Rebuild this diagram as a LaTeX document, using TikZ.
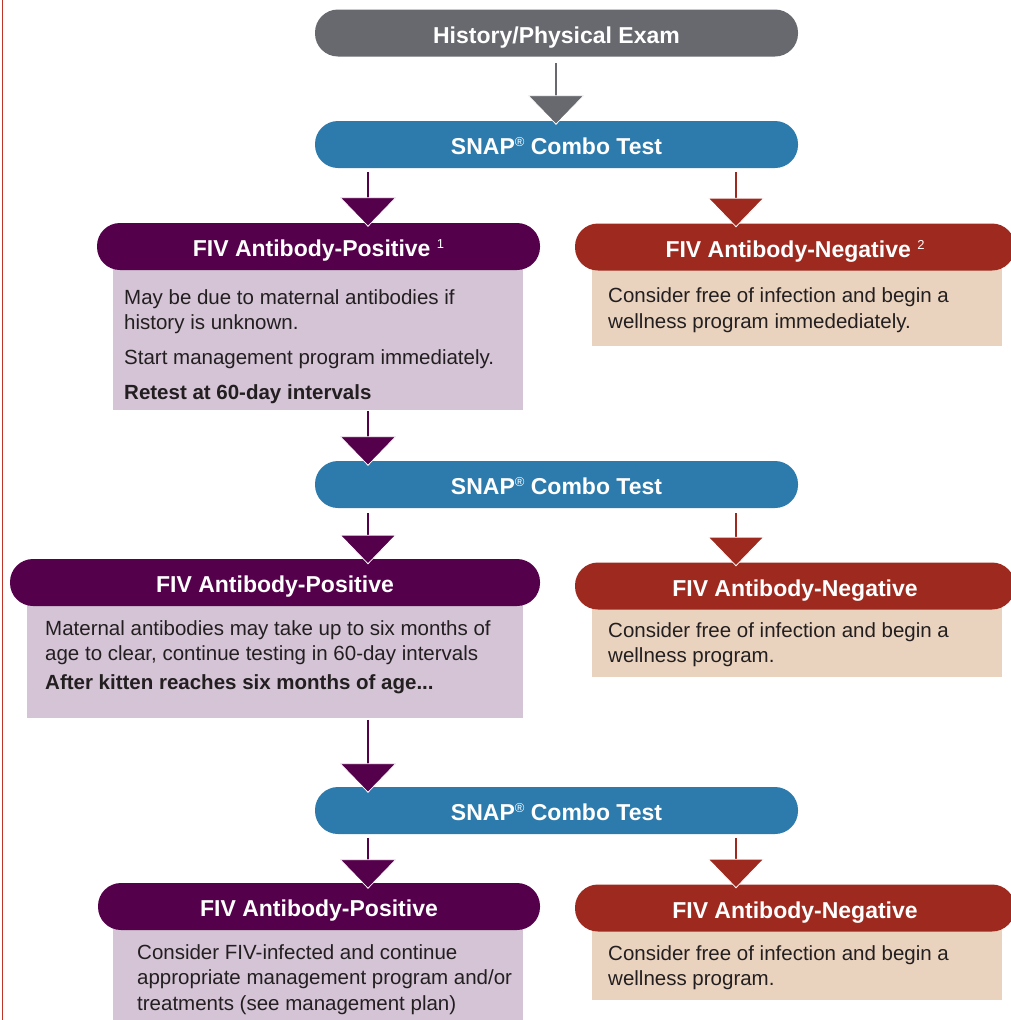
\documentclass[tikz,border=0pt]{standalone}
\usepackage{fontspec}
\setmainfont{Liberation Sans}
\usetikzlibrary{arrows.meta,calc}
\definecolor{cgrey}{RGB}{103,105,110}
\definecolor{cblue}{RGB}{44,123,172}
\definecolor{cpurple}{RGB}{85,0,75}
\definecolor{cred}{RGB}{158,42,31}
\definecolor{clilac}{RGB}{212,196,214}
\definecolor{ctan}{RGB}{234,211,190}
\definecolor{cink}{RGB}{35,31,32}
\definecolor{cborder}{RGB}{192,52,40}
\newcommand{\supmark}[1]{\raisebox{8pt}{\fontsize{13}{13}\selectfont\mdseries #1}}
\begin{document}
\begin{tikzpicture}[x=1pt,y=-1pt,
  pill/.style={rectangle, rounded corners=23pt, minimum height=47pt, inner sep=0pt,
    text=white, font=\fontsize{23}{26}\selectfont\bfseries, text height=20pt, text depth=0pt},
  bodybox/.style={rectangle, inner sep=0pt, anchor=north west},
  bodytext/.style={anchor=north west, inner sep=0pt, align=left, text=cink,
    font=\fontsize{20.5}{25.5}\selectfont},
  flow/.style={line width=1.3pt, draw=#1,
    -{Triangle[length=29.5pt,width=57pt,color=white,fill=#1,line width=0.8pt]}}
]
\useasboundingbox (0,0) rectangle (1011,1020);

% left border line
\coordinate (bt) at (2.5,0);
\coordinate (bb) at (2.5,1020);
\draw[cborder, line width=1.5pt] (bt) -- (bb);

% column coordinates
\coordinate (colL) at (368,0);
\coordinate (colM) at (556,0);
\coordinate (colR) at (736,0);

% bodies (drawn first, pills overlap them)
\node[bodybox, fill=clilac, minimum width=410pt, minimum height=142pt] (pos1body) at (113,268) {};
\node[bodybox, fill=ctan,   minimum width=410pt, minimum height=77pt]  (neg1body) at (592,269) {};
\node[bodybox, fill=clilac, minimum width=496pt, minimum height=114pt] (pos2body) at (27,604) {};
\node[bodybox, fill=ctan,   minimum width=410pt, minimum height=70pt]  (neg2body) at (592,607) {};
\node[bodybox, fill=clilac, minimum width=410pt, minimum height=95pt]  (pos3body) at (113,928) {};
\node[bodybox, fill=ctan,   minimum width=410pt, minimum height=70pt]  (neg3body) at (592,930) {};

% pills
\node[pill, fill=cgrey, minimum width=483pt] (hist) at (556.5,33) {History/Physical Exam};
\node[pill, fill=cblue, minimum width=483pt] (snap1) at (556.5,144.5) {SNAP\supmark{®} Combo Test};
\node[pill, fill=cpurple, minimum width=443pt] (pos1) at (318.5,246.5) {FIV Antibody-Positive \supmark{1}};
\node[pill, fill=cred, minimum width=440pt] (neg1) at (795,247) {FIV Antibody-Negative \supmark{2}};
\node[pill, fill=cblue, minimum width=483pt] (snap2) at (556.5,484.5) {SNAP\supmark{®} Combo Test};
\node[pill, fill=cpurple, minimum width=530pt] (pos2) at (275,582.5) {FIV Antibody-Positive};
\node[pill, fill=cred, minimum width=440pt] (neg2) at (795,586) {FIV Antibody-Negative};
\node[pill, fill=cblue, minimum width=483pt] (snap3) at (556.5,810.5) {SNAP\supmark{®} Combo Test};
\node[pill, fill=cpurple, minimum width=442pt] (pos3) at (319,906.5) {FIV Antibody-Positive};
\node[pill, fill=cred, minimum width=440pt] (neg3) at (795,908) {FIV Antibody-Negative};

% body texts
\node[bodytext] (pos1text) at (124,289) {May be due to maternal antibodies if\\
history is unknown.\\[9.5pt]
Start management program immediately.\\[9.5pt]
\textbf{Retest at 60-day intervals}};
\node[bodytext] (neg1text) at (608,287.5) {Consider free of infection and begin a\\
wellness program immedediately.};
\node[bodytext] (pos2text) at (45,620) {Maternal antibodies may take up to six months of\\
age to clear, continue testing in 60-day intervals\\[3.5pt]
\textbf{After kitten reaches six months of age...}};
\node[bodytext] (neg2text) at (608,622) {Consider free of infection and begin a\\
wellness program.};
\node[bodytext] (pos3text) at (137,944) {Consider FIV-infected and continue\\
appropriate management program and/or\\
treatments (see management plan)};
\node[bodytext] (neg3text) at (608,945) {Consider free of infection and begin a\\
wellness program.};

% connectors
\draw[flow=cgrey]   ($(hist.south -| colM)+(0,6.5)$)     -- ($(snap1.north -| colM)+(0,4)$);
\draw[flow=cpurple] ($(snap1.south -| colL)+(0,4)$)      -- ($(pos1.north -| colL)+(0,4)$);
\draw[flow=cred]    ($(snap1.south -| colR)+(0,4)$)      -- ($(neg1.north -| colR)+(0,4)$);
\draw[flow=cpurple] ($(pos1body.south -| colL)+(0,1)$)   -- ($(snap2.north -| colL)+(0,5)$);
\draw[flow=cpurple] ($(snap2.south -| colL)+(0,5)$)      -- ($(pos2.north -| colL)+(0,5.5)$);
\draw[flow=cred]    ($(snap2.south -| colR)+(0,5)$)      -- ($(neg2.north -| colR)+(0,4)$);
\draw[flow=cpurple] ($(pos2body.south -| colL)+(0,2)$)   -- ($(snap3.north -| colL)+(0,6)$);
\draw[flow=cpurple] ($(snap3.south -| colL)+(0,4)$)      -- ($(pos3.north -| colL)+(0,6)$);
\draw[flow=cred]    ($(snap3.south -| colR)+(0,4)$)      -- ($(neg3.north -| colR)+(0,4)$);
\end{tikzpicture}
\end{document}
